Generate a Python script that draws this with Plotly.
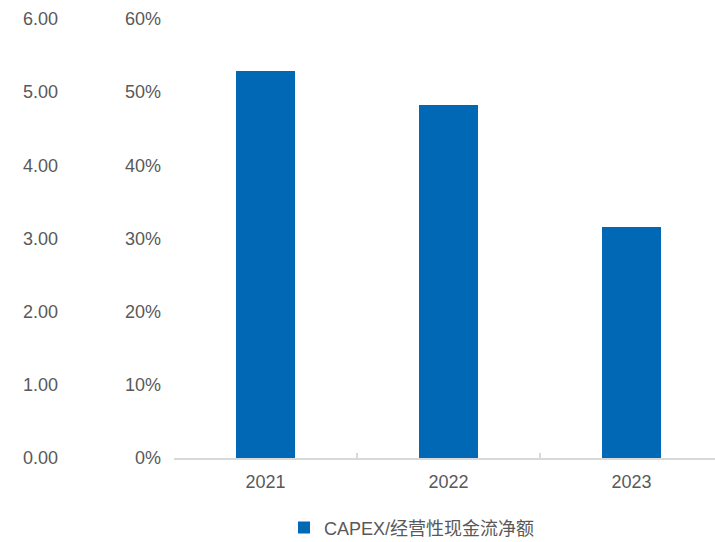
import plotly.graph_objects as go

# Data
years = ["2021", "2022", "2023"]
capex_ratio = [5.29, 4.82, 3.16]
series_name = "CAPEX/经营性现金流净额"

ratio_ticks = [0, 1, 2, 3, 4, 5, 6]
ratio_tick_text = ["0.00", "1.00", "2.00", "3.00", "4.00", "5.00", "6.00"]
pct_ticks = [0, 0.1, 0.2, 0.3, 0.4, 0.5, 0.6]
pct_tick_text = ["0%", "10%", "20%", "30%", "40%", "50%", "60%"]

W, H = 715, 542
FONT = "Liberation Sans, Arial, Noto Sans CJK SC, sans-serif"
GREY = "#595959"
AXIS_GREY = "#d9d9d9"
BLUE = "#0068b5"

fig = go.Figure()
fig.add_trace(go.Bar(
    x=years, y=capex_ratio, name=series_name,
    marker=dict(color=BLUE, line=dict(width=0)),
    width=0.32, yaxis="y",
))
# companion trace so the percentage axis is drawn alongside
fig.add_trace(go.Scatter(
    x=years, y=[v / 10 for v in capex_ratio], yaxis="y2",
    mode="markers", marker=dict(opacity=0), showlegend=False, hoverinfo="skip",
))

x0 = 174 / W
fig.update_layout(
    width=W, height=H,
    margin=dict(l=0, r=0, t=19, b=84, autoexpand=False),
    paper_bgcolor="white", plot_bgcolor="white",
    font=dict(family=FONT, size=18, color=GREY),
    bargap=0,
    xaxis=dict(
        domain=[x0, 1], range=[-0.5, 2.456],
        showline=True, linecolor=AXIS_GREY, linewidth=1.5,
        ticks="inside", tickson="boundaries", ticklen=5, tickcolor=AXIS_GREY,
        tickwidth=1.5, showgrid=False, zeroline=False,
        tickfont=dict(size=18, color=GREY), ticklabelstandoff=7,
    ),
    yaxis=dict(
        range=[0, 6], tickvals=ratio_ticks, ticktext=ratio_tick_text,
        anchor="free", position=58 / W, side="left",
        showline=False, showgrid=False, zeroline=False, ticks="",
        tickfont=dict(size=18, color=GREY),
    ),
    yaxis2=dict(
        range=[0, 0.6], tickvals=pct_ticks, ticktext=pct_tick_text,
        overlaying="y", anchor="x", side="left",
        showline=False, showgrid=False, zeroline=False, ticks="",
        tickfont=dict(size=18, color=GREY), ticklabelstandoff=12,
    ),
    legend=dict(
        orientation="h", x=284 / W, xanchor="left", y=-0.117, yanchor="top",
        font=dict(size=18, color=GREY), bgcolor="rgba(0,0,0,0)",
        itemwidth=30,
    ),
    showlegend=True,
)

fig.write_html("out.html")
